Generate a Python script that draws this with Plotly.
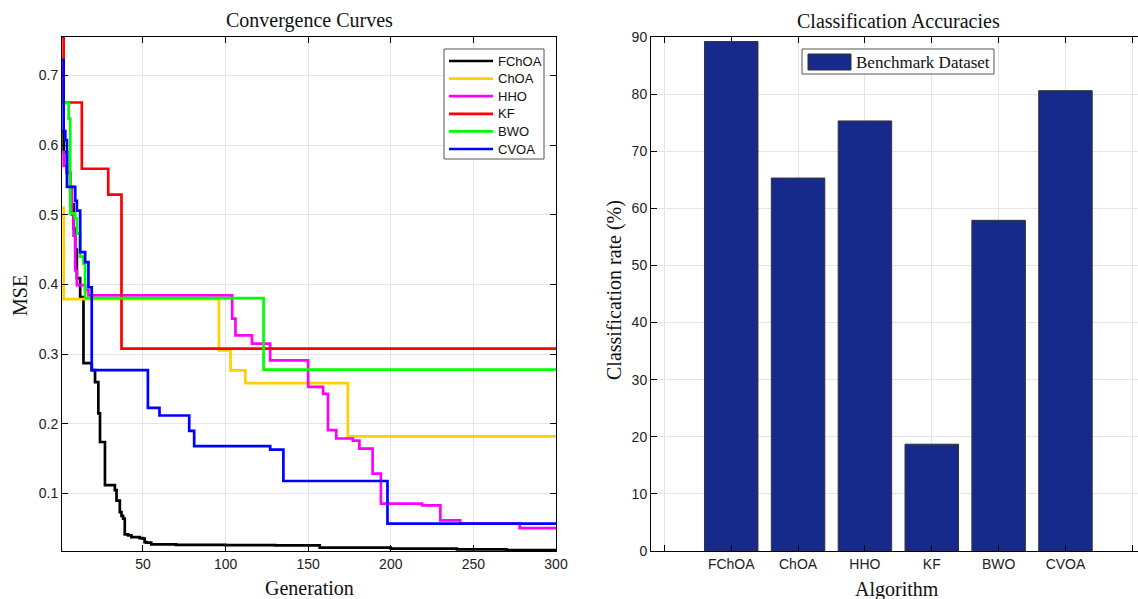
import plotly.graph_objects as go

W, H = 1138, 599

# ---- Convergence curves: generation at which each level starts, and the MSE held from there
fchoa_gen = [1, 2, 4, 6, 8, 9, 10, 12, 14, 19, 21, 23, 24, 27, 33, 34, 36, 37, 38, 39, 41, 43,
             48, 50, 51, 52, 55, 70, 100, 130, 157, 200, 240, 270, 300]
fchoa_mse = [0.62, 0.59, 0.56, 0.515, 0.48, 0.45, 0.409, 0.382, 0.287, 0.277, 0.26, 0.215, 0.174,
             0.112, 0.105, 0.09, 0.0735, 0.068, 0.064, 0.0415, 0.040, 0.0375, 0.036, 0.0353, 0.0304,
             0.0295, 0.0271, 0.0265, 0.026, 0.0257, 0.0224, 0.021, 0.0198, 0.0188, 0.0178]

choa_gen = [1, 2, 96, 103, 112, 174, 300]
choa_mse = [0.51, 0.379, 0.3055, 0.2768, 0.2585, 0.182, 0.182]

hho_gen = [1, 2, 4, 6, 7, 8, 9, 10, 15, 17, 104, 106, 116, 127, 150, 159, 162, 167, 177, 181,
           189, 194, 219, 230, 242, 278, 300]
hho_mse = [0.59, 0.57, 0.56, 0.54, 0.50, 0.47, 0.42, 0.399, 0.392, 0.3844, 0.351, 0.327, 0.315,
           0.291, 0.253, 0.243, 0.191, 0.179, 0.176, 0.1644, 0.1286, 0.0855, 0.083, 0.0616, 0.057,
           0.0505, 0.0505]

kf_gen = [1, 2, 13, 29, 37, 300]
kf_mse = [0.755, 0.661, 0.566, 0.529, 0.308, 0.308]

bwo_gen = [1, 5, 6, 9, 10, 12, 14, 15, 123, 300]
bwo_mse = [0.66, 0.638, 0.502, 0.495, 0.473, 0.44, 0.43, 0.3805, 0.2778, 0.2778]

cvoa_gen = [1, 2, 3, 4, 9, 10, 12, 15, 17, 19, 53, 60, 78, 81, 127, 135, 198, 300]
cvoa_mse = [0.722, 0.62, 0.607, 0.54, 0.52, 0.506, 0.4465, 0.432, 0.396, 0.277, 0.223, 0.212,
            0.19, 0.168, 0.163, 0.118, 0.057, 0.057]

curve_names = ["FChOA", "ChOA", "HHO", "KF", "BWO", "CVOA"]
curve_colors = ["#000000", "#FFD000", "#FF00FF", "#FF0000", "#00FF00", "#0000FF"]
curve_data = [(fchoa_gen, fchoa_mse), (choa_gen, choa_mse), (hho_gen, hho_mse),
              (kf_gen, kf_mse), (bwo_gen, bwo_mse), (cvoa_gen, cvoa_mse)]

# ---- Classification accuracies
algorithms = ["FChOA", "ChOA", "HHO", "KF", "BWO", "CVOA"]
accuracy = [89.2, 65.3, 75.3, 18.7, 57.9, 80.6]
bar_series = "Benchmark Dataset"

BAR_COLOR = "#152A8A"
GRID = "#e4e4e4"
FRAME = "#555555"
SANS = "Liberation Sans, Arial, sans-serif"
SERIF = "Liberation Serif, Times New Roman, serif"
LINE_W = 2.7


def px_x(p):
    return p / W


def px_y(p):
    return 1 - p / H


fig = go.Figure()

for name, color, (g, v) in zip(curve_names, curve_colors, curve_data):
    fig.add_trace(go.Scatter(
        x=g, y=v, name=name, mode="lines", line=dict(color=color, width=LINE_W, shape="hv"),
        xaxis="x", yaxis="y", showlegend=False))

fig.add_trace(go.Bar(
    x=list(range(1, len(algorithms) + 1)), y=accuracy, width=0.8, name=bar_series,
    marker=dict(color=BAR_COLOR, line=dict(color="#333333", width=1)),
    xaxis="x2", yaxis="y2", showlegend=False))

axis_common = dict(
    showline=True, linecolor="black", linewidth=1, ticks="inside", ticklen=6,
    tickcolor="black", tickwidth=1, showgrid=True, gridcolor=GRID, gridwidth=1,
    zeroline=False, automargin=False, tickfont=dict(family=SANS, size=14, color="#222222"))

y_lo, y_hi = px_y(551), px_y(37)

fig.update_layout(
    width=W, height=H, margin=dict(l=0, r=0, t=0, b=0, pad=0, autoexpand=False),
    paper_bgcolor="white", plot_bgcolor="white", showlegend=False,
    xaxis=dict(domain=[px_x(62), px_x(556)], range=[1, 300], tick0=0, dtick=50,
               mirror="ticks", anchor="y", **axis_common),
    yaxis=dict(domain=[y_lo, y_hi], range=[0.0176, 0.755], tick0=0, dtick=0.1,
               tickformat=".1f", mirror="ticks", anchor="x", **axis_common),
    xaxis2=dict(domain=[px_x(651), 1.0], range=[-0.2, 7.085],
                tickvals=list(range(0, 8)), ticktext=[""] + algorithms + [""],
                mirror="ticks", anchor="y2", **axis_common),
    yaxis2=dict(domain=[y_lo, y_hi], range=[0, 90], tick0=0, dtick=10,
                mirror=False, anchor="x2", **axis_common),
)

annotations = [
    dict(text="Convergence Curves", x=px_x(309), y=px_y(21), font=dict(family=SERIF, size=20)),
    dict(text="Classification Accuracies", x=px_x(898), y=px_y(21), font=dict(family=SERIF, size=20)),
    dict(text="Generation", x=px_x(309), y=px_y(588), font=dict(family=SERIF, size=20)),
    dict(text="Algorithm", x=px_x(897), y=px_y(589), font=dict(family=SERIF, size=20)),
    dict(text="MSE", x=px_x(20), y=px_y(296), textangle=-90, font=dict(family=SERIF, size=20)),
    dict(text="Classification rate (%)", x=px_x(614), y=px_y(290), textangle=-90,
         font=dict(family=SERIF, size=20)),
    dict(text=bar_series, x=px_x(854), y=px_y(62), xanchor="left",
         font=dict(family=SERIF, size=17)),
]

shapes = []

# legend of the convergence panel
shapes.append(dict(type="rect", x0=px_x(444), x1=px_x(544), y0=px_y(159), y1=px_y(49),
                   line=dict(color=FRAME, width=1), fillcolor="white"))
row_y0, row_step = 61, 17.6
for i, (name, color) in enumerate(zip(curve_names, curve_colors)):
    ry = row_y0 + i * row_step
    shapes.append(dict(type="line", x0=px_x(449), x1=px_x(493), y0=px_y(ry), y1=px_y(ry),
                       line=dict(color=color, width=LINE_W)))
    annotations.append(dict(text=name, x=px_x(496), y=px_y(ry), xanchor="left",
                            font=dict(family=SANS, size=13)))

# legend of the bar panel
shapes.append(dict(type="rect", x0=px_x(802), x1=px_x(994), y0=px_y(74), y1=px_y(49),
                   line=dict(color=FRAME, width=1), fillcolor="white"))
shapes.append(dict(type="rect", x0=px_x(808), x1=px_x(851), y0=px_y(70), y1=px_y(54),
                   line=dict(color="#333333", width=1), fillcolor=BAR_COLOR))

for s in shapes:
    s.update(xref="paper", yref="paper", layer="above")

for a in annotations:
    a.setdefault("xanchor", "center")
    a.update(xref="paper", yref="paper", yanchor="middle", showarrow=False)
    a["font"]["color"] = "#111111"

fig.update_layout(annotations=annotations, shapes=shapes)

fig.write_html("out.html")
